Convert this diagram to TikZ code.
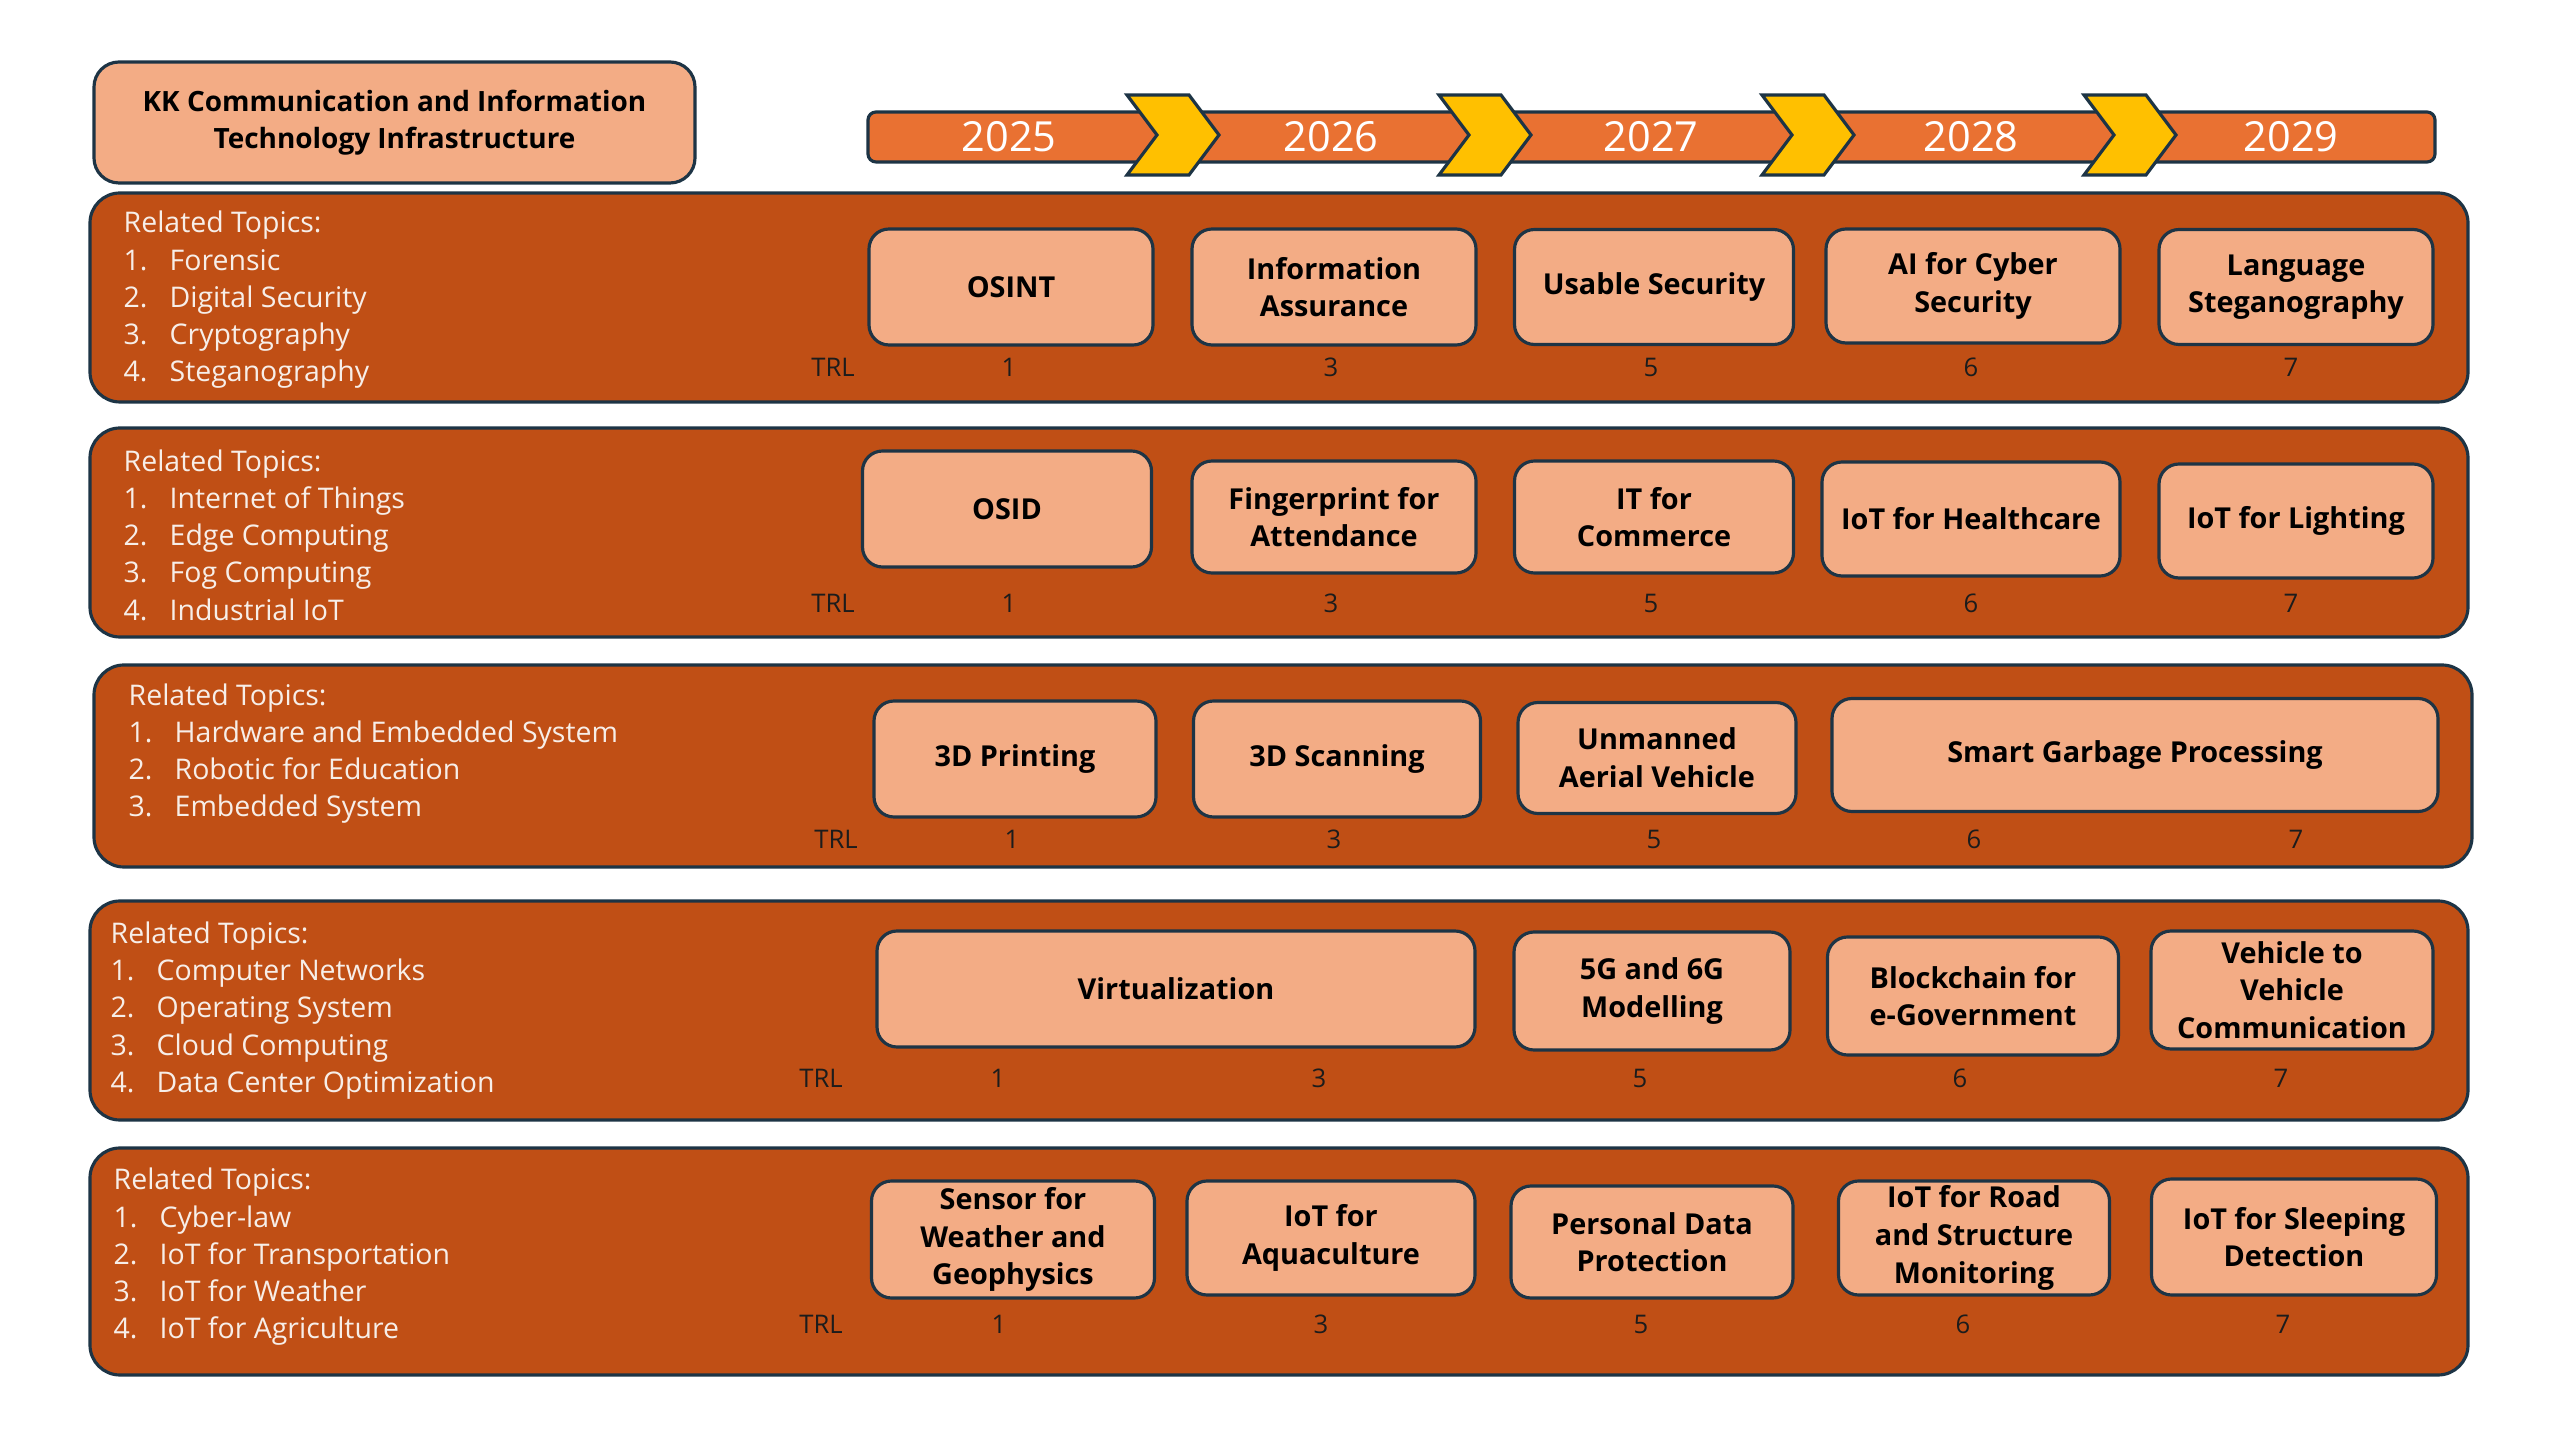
\documentclass[tikz,border=0pt]{standalone}
\usepackage{fontspec}
\setmainfont{Open Sans}
\usetikzlibrary{calc}

\definecolor{bandfill}{HTML}{C04F15}
\definecolor{boxfill}{HTML}{F3AC85}
\definecolor{barfill}{HTML}{E97132}
\definecolor{chevfill}{HTML}{FFC000}
\definecolor{edgecol}{HTML}{1D3445}
\definecolor{listcol}{HTML}{F7EEE8}
\definecolor{trlcol}{HTML}{1C1C1C}

\newcommand{\listfnt}{\fontsize{8.1}{10.6}\selectfont}
\newcommand{\topicfnt}{\fontsize{8.2}{10.7}\selectfont\bfseries}
\newcommand{\titlefnt}{\fontsize{7.95}{10.7}\selectfont\bfseries}
\newcommand{\yearfnt}{\fontsize{11.8}{13}\selectfont}
\newcommand{\trlfnt}{\fontsize{7.3}{9}\selectfont}
\newcommand{\itm}[1]{\makebox[0.46cm][l]{#1}}

\begin{document}
\begin{tikzpicture}[
	band/.style={draw=edgecol, fill=bandfill, line width=0.9pt, rounded corners=0.3cm},
	topic/.style={draw=edgecol, fill=boxfill, line width=0.9pt, rounded corners=0.2cm,
		align=center, font=\topicfnt, text=black, inner sep=0pt},
	topics/.style={anchor=west, align=left, font=\listfnt, text=listcol, inner sep=0pt},
	year/.style={font=\yearfnt, text=white, inner sep=0pt},
	trl/.style={font=\trlfnt, text=trlcol, inner sep=0pt}
]
	\useasboundingbox (0,0) rectangle (25.6,14.4);
	\fill[white] (0,0) rectangle (25.6,14.4);

	% header
	\node[topic, font=\titlefnt, rounded corners=0.25cm, minimum width=6.01cm, minimum height=1.21cm] (title) at (3.945,13.175)
		{KK Communication and Information\\Technology Infrastructure};

	% timeline
	\filldraw[draw=edgecol, fill=barfill, line width=0.9pt, rounded corners=0.08cm] (8.68,12.78) rectangle (24.35,13.28);
	\filldraw[draw=edgecol, fill=chevfill, line width=0.9pt] (11.27,13.45) -- ++(0.62,0) -- ++(0.30,-0.40) -- ++(-0.30,-0.40) -- ++(-0.62,0) -- ++(0.30,0.40) -- cycle;
	\filldraw[draw=edgecol, fill=chevfill, line width=0.9pt] (14.39,13.45) -- ++(0.62,0) -- ++(0.30,-0.40) -- ++(-0.30,-0.40) -- ++(-0.62,0) -- ++(0.30,0.40) -- cycle;
	\filldraw[draw=edgecol, fill=chevfill, line width=0.9pt] (17.62,13.45) -- ++(0.62,0) -- ++(0.30,-0.40) -- ++(-0.30,-0.40) -- ++(-0.62,0) -- ++(0.30,0.40) -- cycle;
	\filldraw[draw=edgecol, fill=chevfill, line width=0.9pt] (20.84,13.45) -- ++(0.62,0) -- ++(0.30,-0.40) -- ++(-0.30,-0.40) -- ++(-0.62,0) -- ++(0.30,0.40) -- cycle;
	\node[year] (y2025) at (10.09,13.03) {2025};
	\node[year] (y2026) at (13.31,13.03) {2026};
	\node[year] (y2027) at (16.51,13.03) {2027};
	\node[year] (y2028) at (19.71,13.03) {2028};
	\node[year] (y2029) at (22.91,13.03) {2029};

	% band 1: security
	\draw[band] (0.90,10.38) rectangle (24.68,12.47);
	\node[topics] (list1) at (1.23,11.40) {Related Topics:\\\itm{1.}Forensic\\\itm{2.}Digital Security\\\itm{3.}Cryptography\\\itm{4.}Steganography};
	\node[topic, minimum width=2.84cm, minimum height=1.16cm] (osint) at (10.11,11.53) {OSINT};
	\node[topic, minimum width=2.84cm, minimum height=1.16cm] (infoas) at (13.34,11.53) {Information\\Assurance};
	\node[topic, minimum width=2.79cm, minimum height=1.15cm] (usable) at (16.54,11.53) {Usable Security};
	\node[topic, minimum width=2.94cm, minimum height=1.14cm] (aicyber) at (19.73,11.54) {AI for Cyber\\Security};
	\node[topic, minimum width=2.74cm, minimum height=1.15cm] (langsteg) at (22.96,11.53) {Language\\Steganography};
	\node[trl] (trl1) at (8.33,10.73) {TRL};
	\node[trl] (n11) at (10.09,10.73) {1}; \node[trl] (n12) at (13.31,10.73) {3}; \node[trl] (n13) at (16.51,10.73) {5};
	\node[trl] (n14) at (19.71,10.73) {6}; \node[trl] (n15) at (22.91,10.73) {7};

	% band 2: iot
	\draw[band] (0.90,8.03) rectangle (24.68,10.12);
	\node[topics] (list2) at (1.23,9.05) {Related Topics:\\\itm{1.}Internet of Things\\\itm{2.}Edge Computing\\\itm{3.}Fog Computing\\\itm{4.}Industrial IoT};
	\node[topic, minimum width=2.89cm, minimum height=1.16cm] (osid) at (10.07,9.31) {OSID};
	\node[topic, minimum width=2.84cm, minimum height=1.12cm] (finger) at (13.34,9.23) {Fingerprint for\\Attendance};
	\node[topic, minimum width=2.79cm, minimum height=1.12cm] (itcom) at (16.54,9.23) {IT for\\Commerce};
	\node[topic, minimum width=2.98cm, minimum height=1.14cm] (health) at (19.71,9.21) {IoT for Healthcare};
	\node[topic, minimum width=2.74cm, minimum height=1.14cm] (light) at (22.96,9.19) {IoT for Lighting};
	\node[trl] (trl2) at (8.33,8.37) {TRL};
	\node[trl] (n21) at (10.09,8.37) {1}; \node[trl] (n22) at (13.31,8.37) {3}; \node[trl] (n23) at (16.51,8.37) {5};
	\node[trl] (n24) at (19.71,8.37) {6}; \node[trl] (n25) at (22.91,8.37) {7};

	% band 3: hardware
	\draw[band] (0.94,5.73) rectangle (24.72,7.75);
	\node[topics] (list3) at (1.28,6.865) {Related Topics:\\\itm{1.}Hardware and Embedded System\\\itm{2.}Robotic for Education\\\itm{3.}Embedded System};
	\node[topic, minimum width=2.82cm, minimum height=1.16cm] (print3d) at (10.15,6.81) {3D Printing};
	\node[topic, minimum width=2.87cm, minimum height=1.16cm] (scan3d) at (13.37,6.81) {3D Scanning};
	\node[topic, minimum width=2.78cm, minimum height=1.11cm] (uav) at (16.57,6.82) {Unmanned\\Aerial Vehicle};
	\node[topic, minimum width=6.06cm, minimum height=1.13cm] (garbage) at (21.35,6.85) {Smart Garbage Processing};
	\node[trl] (trl3) at (8.36,6.01) {TRL};
	\node[trl] (n31) at (10.12,6.01) {1}; \node[trl] (n32) at (13.34,6.01) {3}; \node[trl] (n33) at (16.54,6.01) {5};
	\node[trl] (n34) at (19.74,6.01) {6}; \node[trl] (n35) at (22.96,6.01) {7};

	% band 4: networks
	\draw[band] (0.90,3.20) rectangle (24.68,5.39);
	\node[topics] (list4) at (1.10,4.295) {Related Topics:\\\itm{1.}Computer Networks\\\itm{2.}Operating System\\\itm{3.}Cloud Computing\\\itm{4.}Data Center Optimization};
	\node[topic, minimum width=5.98cm, minimum height=1.16cm] (virt) at (11.76,4.51) {Virtualization};
	\node[topic, minimum width=2.76cm, minimum height=1.18cm] (fiveg) at (16.52,4.49) {5G and 6G\\Modelling};
	\node[topic, minimum width=2.91cm, minimum height=1.18cm] (chain) at (19.73,4.44) {Blockchain for\\e-Government};
	\node[topic, minimum width=2.82cm, minimum height=1.18cm] (vtov) at (22.92,4.50) {Vehicle to\\Vehicle\\Communication};
	\node[trl] (trl4) at (8.21,3.62) {TRL};
	\node[trl] (n41) at (9.98,3.62) {1}; \node[trl] (n42) at (13.19,3.62) {3}; \node[trl] (n43) at (16.40,3.62) {5};
	\node[trl] (n44) at (19.60,3.62) {6}; \node[trl] (n45) at (22.81,3.62) {7};

	% band 5: applications
	\draw[band] (0.90,0.65) rectangle (24.68,2.92);
	\node[topics] (list5) at (1.13,1.83) {Related Topics:\\\itm{1.}Cyber-law\\\itm{2.}IoT for Transportation\\\itm{3.}IoT for Weather\\\itm{4.}IoT for Agriculture};
	\node[topic, minimum width=2.83cm, minimum height=1.17cm] (sensor) at (10.13,2.005) {Sensor for\\Weather and\\Geophysics};
	\node[topic, minimum width=2.88cm, minimum height=1.14cm] (aqua) at (13.31,2.02) {IoT for\\Aquaculture};
	\node[topic, minimum width=2.82cm, minimum height=1.12cm] (pdp) at (16.52,1.98) {Personal Data\\Protection};
	\node[topic, minimum width=2.71cm, minimum height=1.14cm] (road) at (19.74,2.02) {IoT for Road\\and Structure\\Monitoring};
	\node[topic, minimum width=2.85cm, minimum height=1.16cm] (sleep) at (22.94,2.03) {IoT for Sleeping\\Detection};
	\node[trl] (trl5) at (8.21,1.16) {TRL};
	\node[trl] (n51) at (9.99,1.16) {1}; \node[trl] (n52) at (13.21,1.16) {3}; \node[trl] (n53) at (16.41,1.16) {5};
	\node[trl] (n54) at (19.63,1.16) {6}; \node[trl] (n55) at (22.83,1.16) {7};
\end{tikzpicture}
\end{document}
